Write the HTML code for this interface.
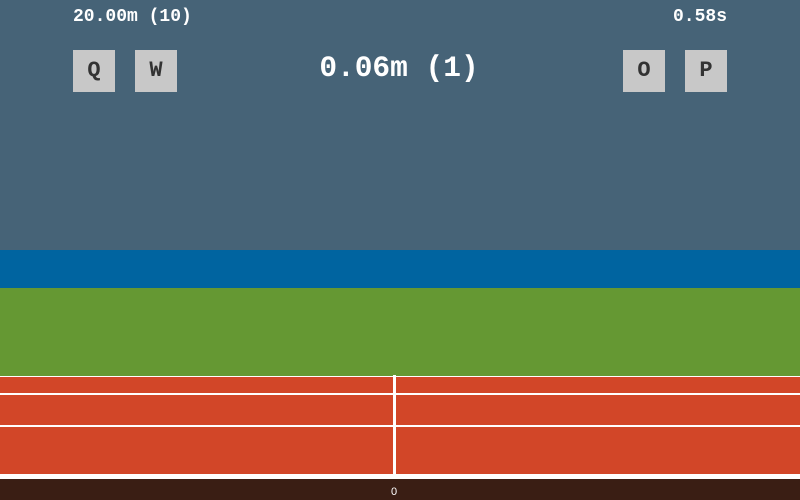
<!DOCTYPE html>
<html><head><meta charset="utf-8"><style>
body{margin:0;width:800px;height:500px;overflow:hidden;background:#466377;position:relative;font-family:"Liberation Mono",monospace}
div{position:absolute}
.key{width:42px;height:42px;background:#c8c8c8;color:#333;font-weight:bold;font-size:22px;line-height:42px;text-align:center}
.txt{color:#fff;font-weight:bold}
</style></head><body>
<div style="left:0;top:0;width:800px;height:250px;background:#466377"></div>
<div class="txt" style="left:73px;top:7px;font-size:18px">20.00m (10)</div>
<div class="txt" style="left:673px;top:7px;font-size:18px">0.58s</div>
<div class="txt" style="left:0;width:798px;text-align:center;top:51px;font-size:29.5px">0.06m (1)</div>
<div class="key" style="left:73px;top:50px">Q</div>
<div class="key" style="left:135px;top:50px">W</div>
<div class="key" style="left:623px;top:50px">O</div>
<div class="key" style="left:685px;top:50px">P</div>
<div style="left:0;top:250px;width:800px;height:38px;background:#0064a0"></div>
<div style="left:0;top:288px;width:800px;height:88px;background:#659833"></div>
<div style="left:0;top:376px;width:800px;height:103px;background:#d24628"></div>
<div style="left:0;top:376px;width:800px;height:1px;background:#fff"></div>
<div style="left:0;top:393px;width:800px;height:2px;background:#fff"></div>
<div style="left:0;top:425px;width:800px;height:2px;background:#fff"></div>
<div style="left:0;top:474px;width:800px;height:5px;background:#fff"></div>
<div style="left:393px;top:375px;width:3px;height:100px;background:#fff"></div>
<div style="left:0;top:479px;width:800px;height:21px;background:#3a1e14"></div>
<div style="left:380px;width:28px;text-align:center;top:486px;color:#fff;font-family:'Liberation Sans',sans-serif;font-size:11px">0</div>
</body></html>
